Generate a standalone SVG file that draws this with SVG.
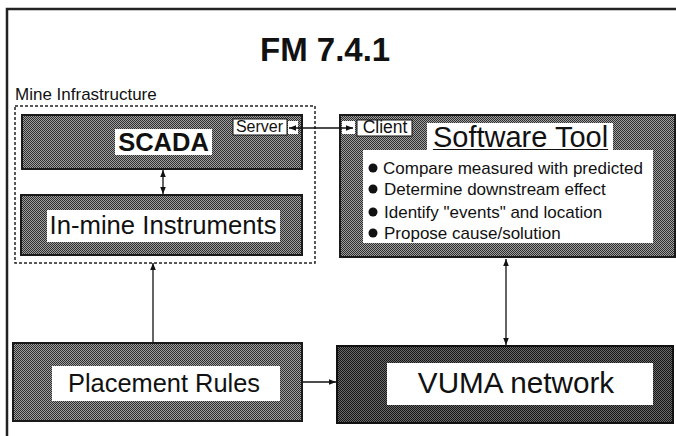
<svg xmlns="http://www.w3.org/2000/svg" width="676" height="436" viewBox="0 0 676 436">
<defs>
<style>
text{font-family:"Liberation Sans",Arial,sans-serif;fill:#111}
.box{fill:url(#dither);stroke:#1a1a1a;stroke-width:2}
.dark{fill:url(#dither2);stroke:#111;stroke-width:2}
.lbl{fill:#fff}
.conn{stroke:#111;stroke-width:1.3;fill:none}
</style>
<pattern id="dither" width="2" height="2" patternUnits="userSpaceOnUse">
<rect width="2" height="2" fill="#a0a0a0"/><rect width="1" height="1" fill="#2e2e2e"/><rect x="1" y="1" width="1" height="1" fill="#2e2e2e"/>
</pattern>
<pattern id="dither2" width="2" height="2" patternUnits="userSpaceOnUse">
<rect width="2" height="2" fill="#6a6a6a"/><rect width="1" height="1" fill="#151515"/><rect x="1" y="1" width="1" height="1" fill="#151515"/>
</pattern>
<marker id="ah" viewBox="0 0 10 10" refX="10" refY="5" markerWidth="7" markerHeight="7" orient="auto-start-reverse" markerUnits="userSpaceOnUse">
<path d="M0,1 L10,5 L0,9 Z" fill="#111"/>
</marker>
</defs>
<rect width="676" height="436" fill="#fff"/>
<path d="M7,436 V9 H676" fill="none" stroke="#222" stroke-width="2.5"/>
<text x="260" y="61" font-size="33" font-weight="bold">FM 7.4.1</text>
<text x="15" y="100" font-size="17">Mine Infrastructure</text>
<rect x="15" y="106" width="300" height="157" fill="none" stroke="#222" stroke-width="1.5" stroke-dasharray="3 2"/>

<g id="scada">
<rect class="box" x="22" y="115" width="280" height="54"/>
<rect class="lbl" x="115" y="129" width="97" height="26"/>
<text x="163.5" y="151" font-size="25.5" font-weight="bold" text-anchor="middle">SCADA</text>
<rect class="lbl" x="233" y="119" width="54" height="16" stroke="#111" stroke-width="1"/>
<text x="259.5" y="132" font-size="16" text-anchor="middle">Server</text>
<rect class="lbl" x="288" y="121" width="10" height="13"/>
</g>

<g id="instruments">
<rect class="box" x="21" y="195" width="281" height="60"/>
<rect class="lbl" x="47" y="210" width="233" height="32"/>
<text x="163" y="234" font-size="25.7" text-anchor="middle">In-mine Instruments</text>
</g>

<g id="software">
<rect class="box" x="340" y="115" width="335" height="142"/>
<rect class="lbl" x="342" y="121" width="13" height="13"/>
<rect class="lbl" x="357" y="120" width="55" height="16" stroke="#111" stroke-width="1"/>
<text x="385" y="133" font-size="17.5" text-anchor="middle">Client</text>
<rect class="lbl" x="427" y="123" width="186" height="30"/>
<text x="520.5" y="147" font-size="29" text-anchor="middle" text-decoration="underline">Software Tool</text>
<rect class="lbl" x="363" y="150" width="290" height="93"/>
<g font-size="17">
<circle cx="373" cy="168" r="4.5" fill="#111"/><text x="383" y="174">Compare measured with predicted</text>
<circle cx="373" cy="189" r="4.5" fill="#111"/><text x="384" y="195">Determine downstream effect</text>
<circle cx="373" cy="212" r="4.5" fill="#111"/><text x="384" y="218">Identify "events" and location</text>
<circle cx="373" cy="233" r="4.5" fill="#111"/><text x="384" y="239">Propose cause/solution</text>
</g>
</g>

<g id="placement">
<rect class="box" x="13" y="343" width="289" height="78"/>
<rect class="lbl" x="52" y="366" width="228" height="35"/>
<text x="164" y="392" font-size="25.4" text-anchor="middle">Placement Rules</text>
</g>

<g id="vuma">
<rect class="dark" x="337" y="346" width="336" height="77"/>
<rect class="lbl" x="387" y="363" width="266" height="42"/>
<text x="516" y="393" font-size="29.7" text-anchor="middle">VUMA network</text>
</g>

<g id="connectors">
<line class="conn" x1="289" y1="128" x2="353" y2="128" marker-start="url(#ah)" marker-end="url(#ah)"/>
<line class="conn" x1="163" y1="170" x2="163" y2="194" marker-start="url(#ah)" marker-end="url(#ah)"/>
<line class="conn" x1="153" y1="342" x2="153" y2="263" marker-end="url(#ah)"/>
<line class="conn" x1="303" y1="382" x2="336" y2="382" marker-end="url(#ah)"/>
<line class="conn" x1="506" y1="259" x2="506" y2="345" marker-start="url(#ah)" marker-end="url(#ah)"/>
</g>
</svg>
